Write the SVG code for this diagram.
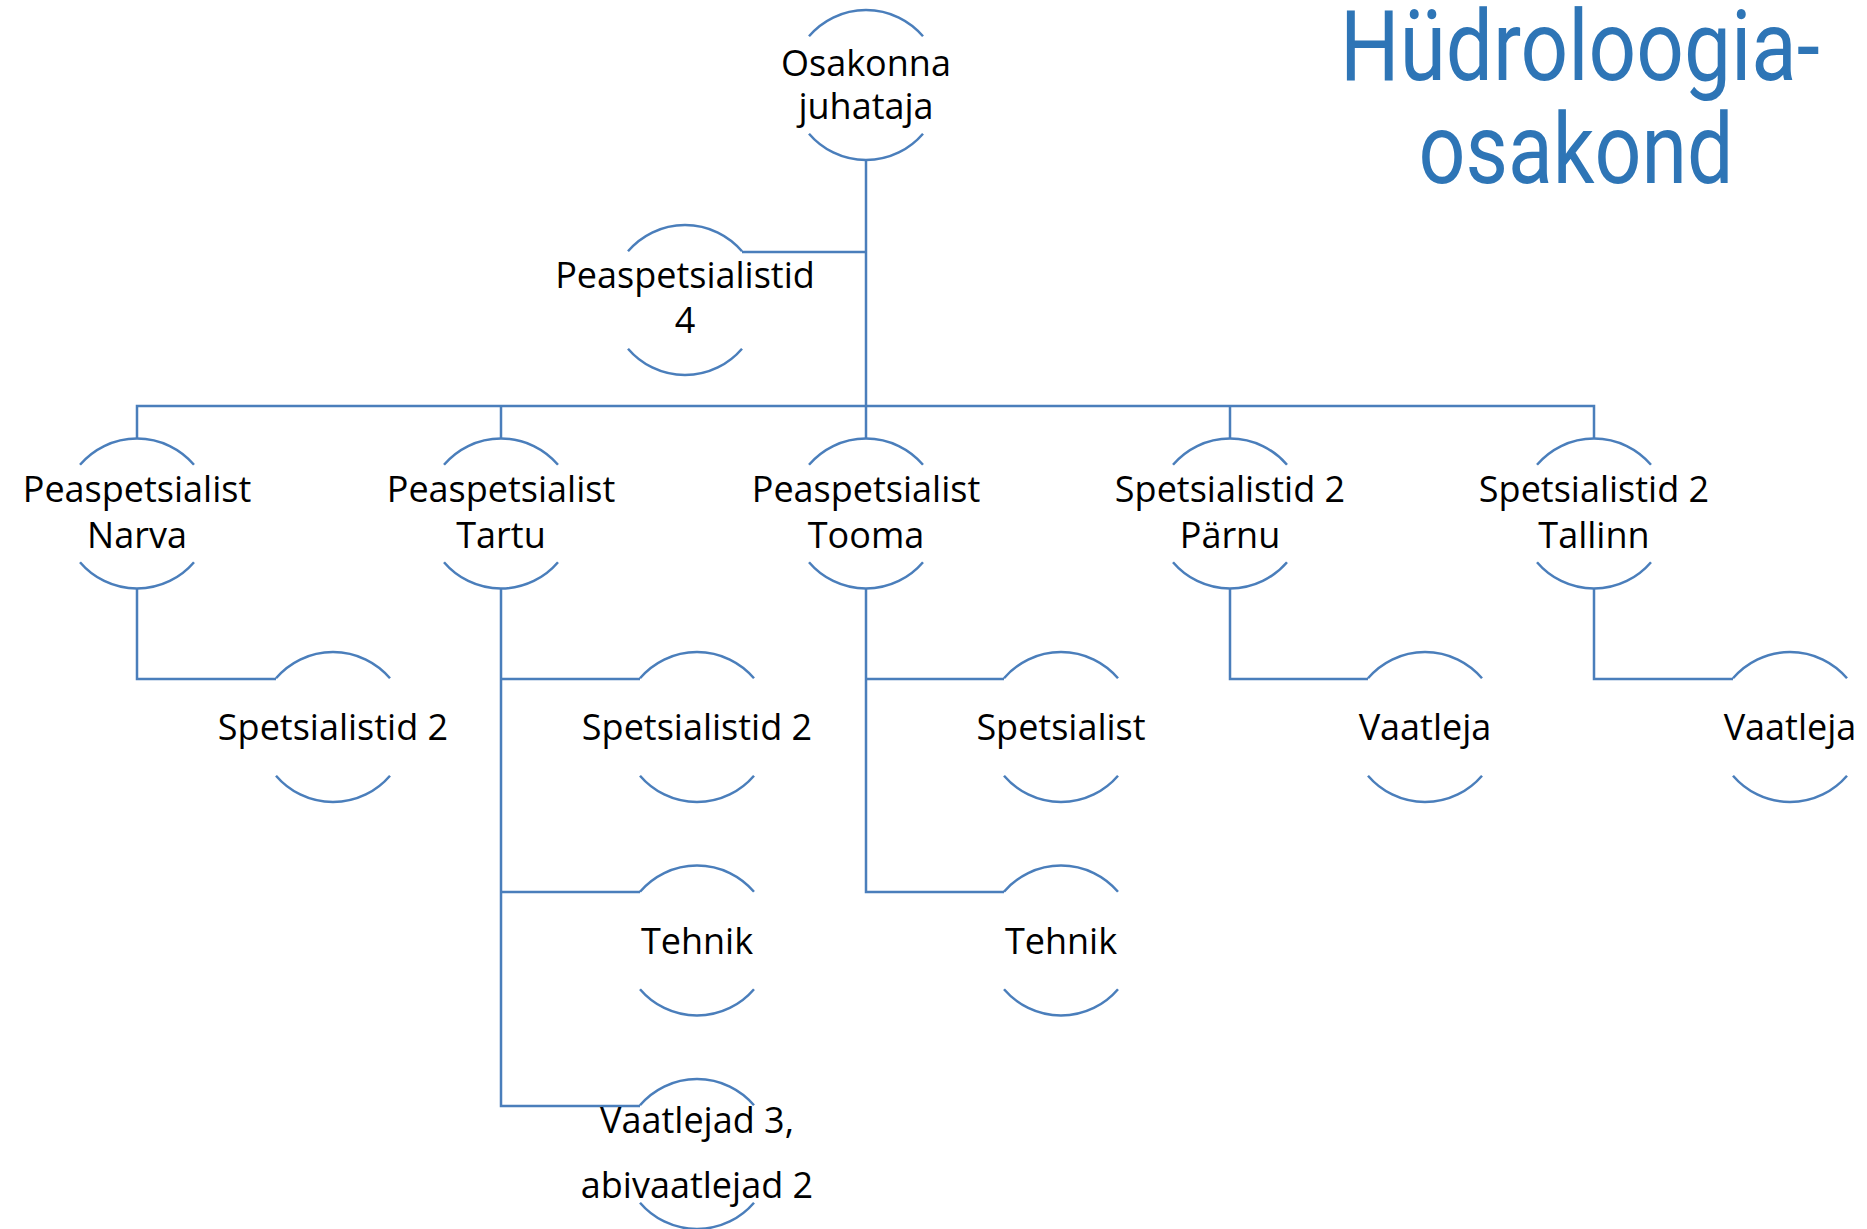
<svg xmlns="http://www.w3.org/2000/svg" width="1867" height="1229" viewBox="0 0 1867 1229">
<style>
.arc{fill:none;stroke:#4a7ebb;stroke-width:2.5}
.con{fill:none;stroke:#4a7ebb;stroke-width:2.5}
.t{font-family:"Open Sans","Noto Sans",sans-serif;font-size:36px;fill:#000;text-anchor:middle}
.title{font-family:Roboto,"Liberation Sans",sans-serif;font-size:98px;fill:#2e75b6;text-anchor:middle}
</style>
<rect width="1867" height="1229" fill="#fff"/>
<g id="title">
<text class="title" x="1580" y="80" textLength="480" lengthAdjust="spacingAndGlyphs">Hüdroloogia-</text>
<text class="title" x="1576" y="183" textLength="315" lengthAdjust="spacingAndGlyphs">osakond</text>
</g>
<g id="connectors">
<path class="con" d="M866 160 V406"/>
<path class="con" d="M866 252 H742"/>
<path class="con" d="M137 438 V406 H1594 V438"/>
<path class="con" d="M501 406 V438"/>
<path class="con" d="M866 406 V438"/>
<path class="con" d="M1230 406 V438"/>
<path class="con" d="M137 589 V679 H276"/>
<path class="con" d="M501 589 V1106 H640"/>
<path class="con" d="M501 679 H640"/>
<path class="con" d="M501 892 H640"/>
<path class="con" d="M866 589 V892 H1004"/>
<path class="con" d="M866 679 H1004"/>
<path class="con" d="M1230 589 V679 H1368"/>
<path class="con" d="M1594 589 V679 H1733"/>
</g>
<g id="n-osakonna-juhataja">
<path class="arc" d="M809 36.3 A75 75 0 0 1 923 36.3 M809 133.7 A75 75 0 0 0 923 133.7"/>
<text class="t" x="866" y="76">Osakonna</text>
<text class="t" x="866" y="119">juhataja</text>
</g>
<g id="n-peaspetsialistid-4">
<path class="arc" d="M628 251.3 A75 75 0 0 1 742 251.3 M628 348.7 A75 75 0 0 0 742 348.7"/>
<text class="t" x="685" y="288">Peaspetsialistid</text>
<text class="t" x="685" y="333">4</text>
</g>
<g id="n-narva">
<path class="arc" d="M80 464.8 A75 75 0 0 1 194 464.8 M80 562.2 A75 75 0 0 0 194 562.2"/>
<text class="t" x="137" y="502">Peaspetsialist</text>
<text class="t" x="137" y="548">Narva</text>
</g>
<g id="n-tartu">
<path class="arc" d="M444 464.8 A75 75 0 0 1 558 464.8 M444 562.2 A75 75 0 0 0 558 562.2"/>
<text class="t" x="501" y="502">Peaspetsialist</text>
<text class="t" x="501" y="548">Tartu</text>
</g>
<g id="n-tooma">
<path class="arc" d="M809 464.8 A75 75 0 0 1 923 464.8 M809 562.2 A75 75 0 0 0 923 562.2"/>
<text class="t" x="866" y="502">Peaspetsialist</text>
<text class="t" x="866" y="548">Tooma</text>
</g>
<g id="n-parnu">
<path class="arc" d="M1173 464.8 A75 75 0 0 1 1287 464.8 M1173 562.2 A75 75 0 0 0 1287 562.2"/>
<text class="t" x="1230" y="502">Spetsialistid 2</text>
<text class="t" x="1230" y="548">Pärnu</text>
</g>
<g id="n-tallinn">
<path class="arc" d="M1537 464.8 A75 75 0 0 1 1651 464.8 M1537 562.2 A75 75 0 0 0 1651 562.2"/>
<text class="t" x="1594" y="502">Spetsialistid 2</text>
<text class="t" x="1594" y="548">Tallinn</text>
</g>
<g id="n-narva-spetsialistid">
<path class="arc" d="M276 678.3 A75 75 0 0 1 390 678.3 M276 775.7 A75 75 0 0 0 390 775.7"/>
<text class="t" x="333" y="740">Spetsialistid 2</text>
</g>
<g id="n-tartu-spetsialistid">
<path class="arc" d="M640 678.3 A75 75 0 0 1 754 678.3 M640 775.7 A75 75 0 0 0 754 775.7"/>
<text class="t" x="697" y="740">Spetsialistid 2</text>
</g>
<g id="n-tartu-tehnik">
<path class="arc" d="M640 891.8 A75 75 0 0 1 754 891.8 M640 989.2 A75 75 0 0 0 754 989.2"/>
<text class="t" x="697" y="954">Tehnik</text>
</g>
<g id="n-tartu-vaatlejad">
<path class="arc" d="M640 1105.3 A75 75 0 0 1 754 1105.3 M640 1202.7 A75 75 0 0 0 754 1202.7"/>
<text class="t" x="697" y="1133">Vaatlejad 3,</text>
<text class="t" x="697" y="1198">abivaatlejad 2</text>
</g>
<g id="n-tooma-spetsialist">
<path class="arc" d="M1004 678.3 A75 75 0 0 1 1118 678.3 M1004 775.7 A75 75 0 0 0 1118 775.7"/>
<text class="t" x="1061" y="740">Spetsialist</text>
</g>
<g id="n-tooma-tehnik">
<path class="arc" d="M1004 891.8 A75 75 0 0 1 1118 891.8 M1004 989.2 A75 75 0 0 0 1118 989.2"/>
<text class="t" x="1061" y="954">Tehnik</text>
</g>
<g id="n-parnu-vaatleja">
<path class="arc" d="M1368 678.3 A75 75 0 0 1 1482 678.3 M1368 775.7 A75 75 0 0 0 1482 775.7"/>
<text class="t" x="1425" y="740">Vaatleja</text>
</g>
<g id="n-tallinn-vaatleja">
<path class="arc" d="M1733 678.3 A75 75 0 0 1 1847 678.3 M1733 775.7 A75 75 0 0 0 1847 775.7"/>
<text class="t" x="1790" y="740">Vaatleja</text>
</g>
</svg>
